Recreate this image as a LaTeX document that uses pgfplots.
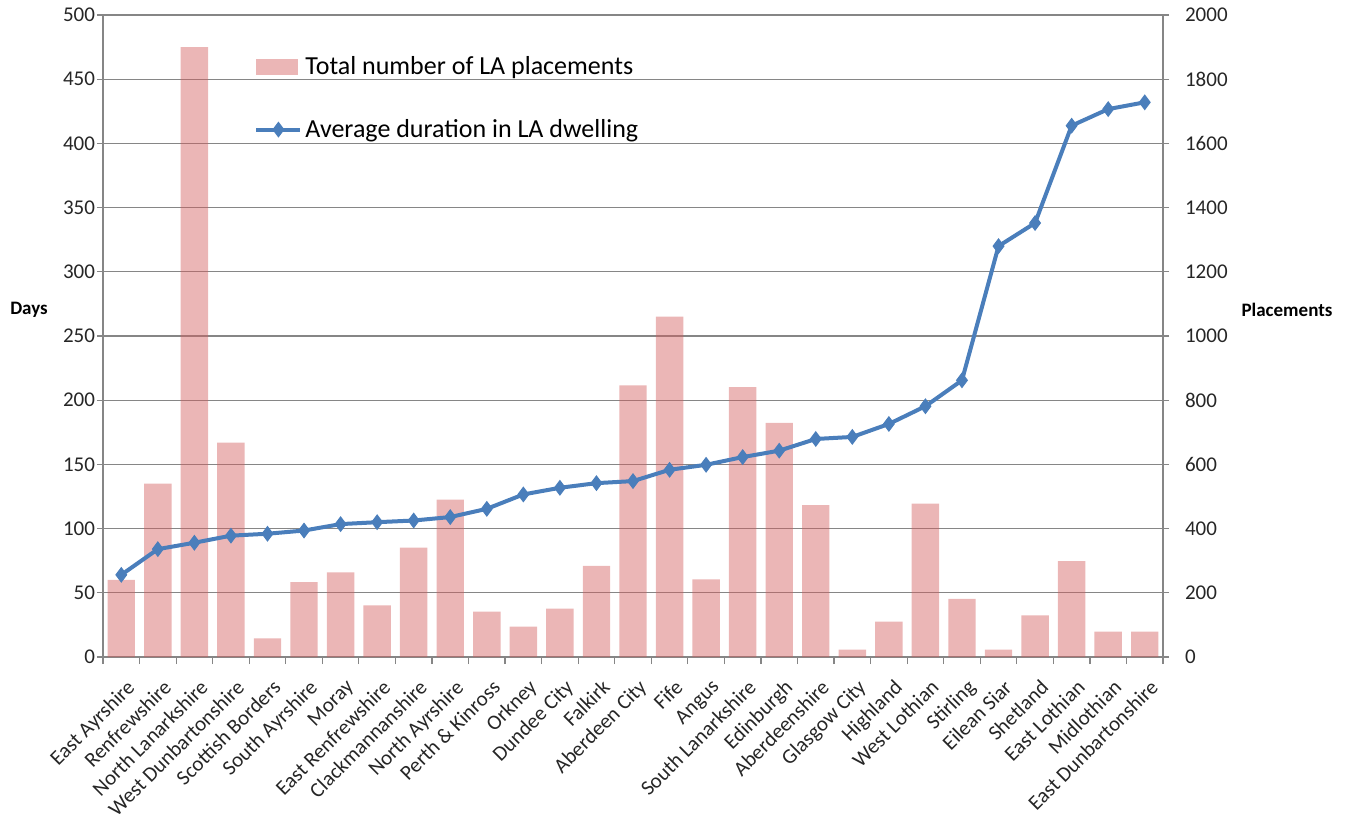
\documentclass[border=0pt]{standalone}
\usepackage{fontspec}
\setmainfont{Carlito}
\usepackage{pgfplots}
\pgfplotsset{compat=1.18}
\usepackage{pgfplotstable}

\definecolor{barpink}{RGB}{211,93,93}
\definecolor{lineblue}{RGB}{74,126,187}
\definecolor{axisgray}{RGB}{134,134,134}

% idx: category position; days: average duration; placements: total LA placements
\pgfplotstableread{
idx days placements
0  64   240
1  84   540
2  89   1900
3  94.5 668
4  96   58
5  98.5 233
6  103.5 264
7  105  161
8  106.3 341
9  109  490
10 115.4 141
11 126.6 95
12 131.8 151
13 135.4 284
14 137  846
15 145.8 1060
16 149.7 242
17 155.7 841
18 160.7 729
19 169.8 473
20 171.4 23
21 181.5 110
22 195.3 478
23 215.5 181
24 320  23
25 338  130
26 413.8 299
27 426.7 79
28 432  79
}\datatable

\pgfplotsset{
  base/.style={
    scale only axis, width=530pt, height=321pt,
    xmin=-0.5, xmax=28.5,
    /pgf/number format/assume math mode=true,
    /pgf/number format/1000 sep={},
    tick label style={font=\fontsize{10.5}{12}\selectfont, text=black!85},
    tick align=outside,
    axis line style={axisgray, line width=0.6pt, -},
    tick style={axisgray, line width=0.6pt},
    major tick length=3pt,
  },
  barleg/.style={legend image code/.code={%
    \path[draw=none, fill=barpink, fill opacity=0.45] (0pt,-4pt) rectangle (21pt,4pt);}},
  lineleg/.style={legend image code/.code={%
    \draw[mark repeat=2, mark phase=2, ##1] plot coordinates {(0pt,0pt) (11pt,0pt) (22pt,0pt)};}},
}

\begin{document}
\begin{tikzpicture}
% left axis: days, grid and category labels
\begin{axis}[base,
  ymin=0, ymax=500, ytick distance=50,
  ymajorgrids, grid style={axisgray, line width=0.6pt},
  axis y line*=left, axis x line*=bottom,
  yticklabel style={xshift=2.5pt},
  xtick={0,...,28},
  major x tick style={draw=none},
  minor xtick={-0.5,0.5,...,28.5},
  minor tick length=3.5pt,
  minor x tick style={axisgray, line width=0.6pt},
  xticklabels={East Ayrshire,Renfrewshire,North Lanarkshire,West Dunbartonshire,Scottish Borders,South Ayrshire,Moray,East Renfrewshire,Clackmannanshire,North Ayrshire,Perth \& Kinross,Orkney,Dundee City,Falkirk,Aberdeen City,Fife,Angus,South Lanarkshire,Edinburgh,Aberdeenshire,Glasgow City,Highland,West Lothian,Stirling,Eilean Siar,Shetland,East Lothian,Midlothian,East Dunbartonshire},
  xticklabel style={rotate=45, anchor=north east, inner sep=1pt, xshift=-2.8pt, yshift=-5.8pt},
]
\addplot[draw=none, forget plot] table[x=idx, y=days] {\datatable};
\coordinate (sw) at (rel axis cs:0,0);
\coordinate (ne) at (rel axis cs:1,1);
\coordinate (dayslab) at (rel axis cs:0,0.54);
\coordinate (placelab) at (rel axis cs:1,0.54);
\end{axis}

% right axis: placements as bars
\begin{axis}[base,
  ymin=0, ymax=2000, ytick distance=200,
  axis y line*=right, axis x line=none,
  yticklabel style={anchor=west, xshift=4.5pt},
]
\addplot[ybar, bar width=0.75, fill=barpink, fill opacity=0.45, draw=none]
  table[x=idx, y=placements] {\datatable};
\end{axis}

% duration line on top, with the legend
\begin{axis}[base,
  ymin=0, ymax=500, hide axis,
  legend style={draw=none, fill=none, at={(rel axis cs:0.1425,0.943)}, anchor=north west,
    font=\fontsize{13}{15}\selectfont, row sep=17pt, inner sep=0pt,
    nodes={inner xsep=1.5pt},
    cells={anchor=west}},
]
\addlegendimage{barleg, draw=none}
\addlegendentry{Total number of LA placements}
\addplot[lineblue, line width=2pt, mark=diamond*, mark size=3.6pt,
  mark options={fill=lineblue, draw=lineblue, line width=0.5pt}, lineleg]
  table[x=idx, y=days] {\datatable};
\addlegendentry{Average duration in LA dwelling}
\end{axis}

% axis titles
\node[font=\bfseries\fontsize{9.5}{11}\selectfont] at ([xshift=-37pt]dayslab) {Days};
\node[font=\bfseries\fontsize{9.5}{11}\selectfont] at ([xshift=62pt]placelab) {Placements};

\pgfresetboundingbox
\path ([xshift=-51.5pt,yshift=-87pt]sw) rectangle ([xshift=96.5pt,yshift=7.5pt]ne);
\end{tikzpicture}
\end{document}
